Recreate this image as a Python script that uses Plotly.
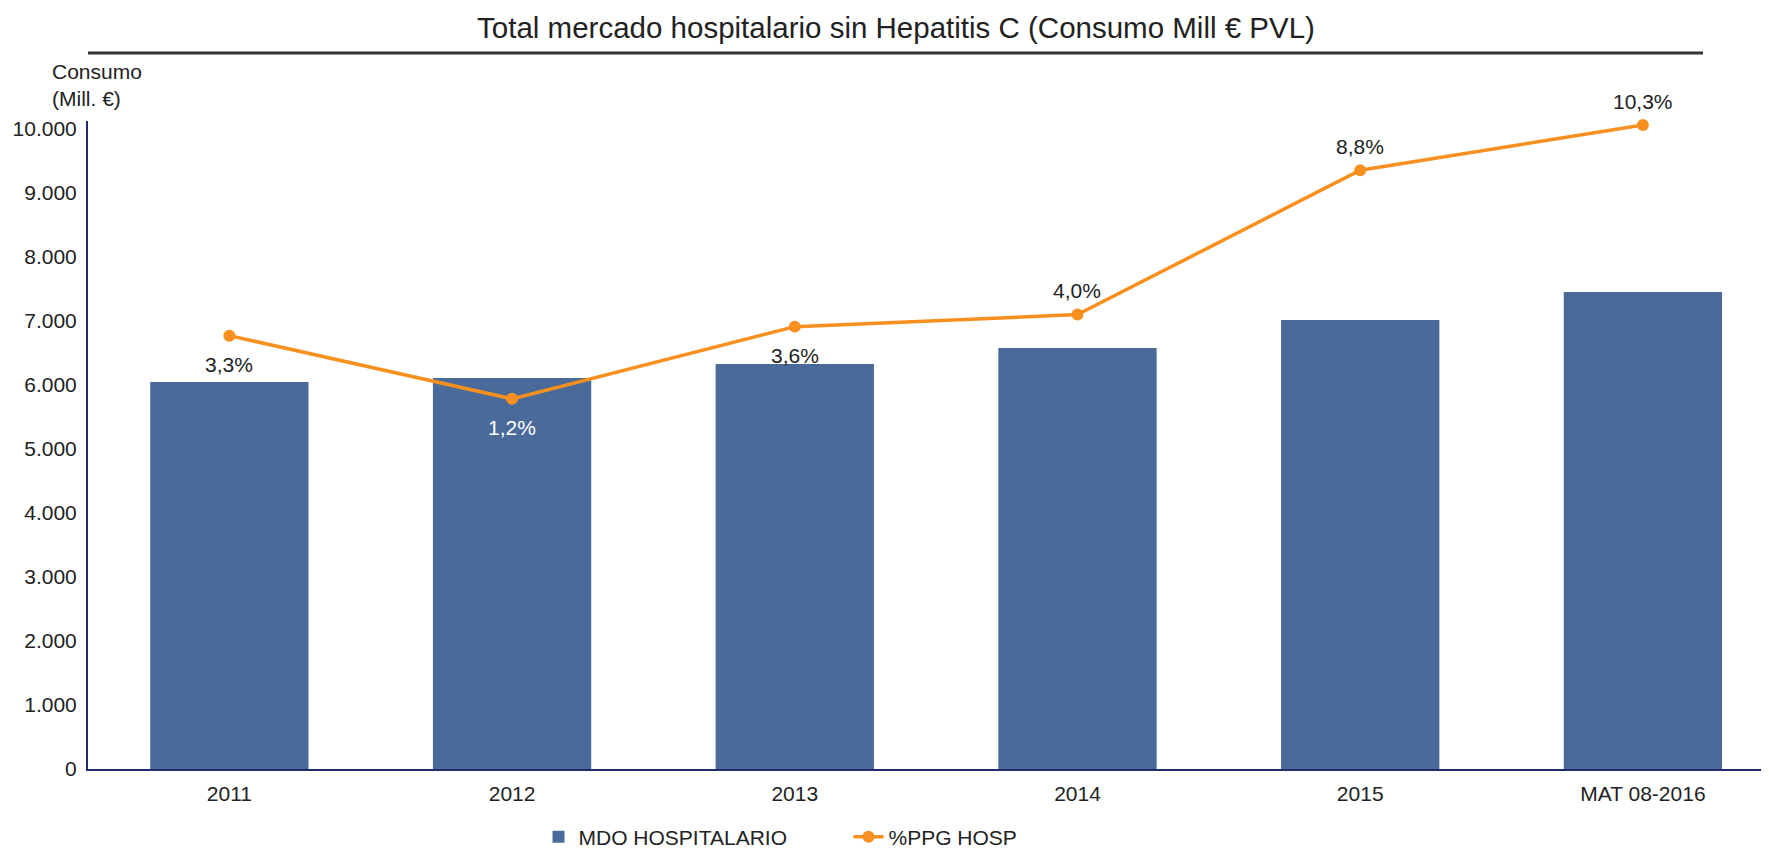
import plotly.graph_objects as go

categories = ['2011', '2012', '2013', '2014', '2015', 'MAT 08-2016']
mdo_hospitalario = [6047, 6109, 6328, 6578, 7016, 7453]
ppg_hosp = [3.3, 1.2, 3.6, 4.0, 8.8, 10.3]
label_side = ['below', 'below', 'below', 'above', 'above', 'above']
label_color = ['#222222', '#ffffff', '#222222', '#222222', '#222222', '#222222']

BAR_COLOR = '#4a6b9a'
LINE_COLOR = '#f7901e'
AXIS_COLOR = '#1f2d6b'
TEXT_COLOR = '#222222'
FONT = 'Arial, Liberation Sans, sans-serif'

# the page body has an 8px margin, so the figure is laid out 8px up/left
OFF = 8
W, H = 1769, 849
M_L, M_T, M_B, M_R = 88 - OFF, 121 - OFF, H - 769 + OFF, OFF
PLOT_H = H - M_T - M_B


def pct_text(v):
    return ('%.1f' % v).replace('.', ',') + '%'


def py(y_px):
    # window pixel row -> paper y
    return (H - M_B - (y_px - OFF)) / PLOT_H


fig = go.Figure()
fig.add_trace(go.Bar(x=categories, y=mdo_hospitalario,
                     name='MDO HOSPITALARIO',
                     marker=dict(color=BAR_COLOR, line=dict(width=0)),
                     width=0.56))
fig.add_trace(go.Scatter(x=categories, y=ppg_hosp,
                         mode='lines+markers',
                         name='%PPG HOSP',
                         yaxis='y2',
                         cliponaxis=False,
                         line=dict(color=LINE_COLOR, width=3.5),
                         marker=dict(color=LINE_COLOR, size=12)))

# labels of the percentage line
for i, (v, side, col) in enumerate(zip(ppg_hosp, label_side, label_color)):
    fig.add_annotation(x=i, y=v, xref='x', yref='y2', text=pct_text(v),
                       showarrow=False, xanchor='center', yanchor='middle',
                       yshift=-29 if side == 'below' else 24,
                       font=dict(size=21, color=col, family=FONT))

plot_w = W - M_L - M_R

# y axis title
fig.add_annotation(xref='paper', yref='paper', x=(50 - 88) / plot_w, y=py(84.5),
                   text='Consumo<br>(Mill. €)', showarrow=False,
                   xanchor='left', yanchor='middle', align='left',
                   font=dict(size=21, color=TEXT_COLOR, family=FONT))

# underline below the title
fig.add_shape(type='line', xref='paper', yref='paper',
              x0=0, x1=(1703 - 88) / plot_w, y0=py(53), y1=py(53),
              line=dict(color='#333333', width=3))

fig.update_layout(
    width=W, height=H,
    margin=dict(l=M_L, r=M_R, t=M_T, b=M_B, autoexpand=False),
    paper_bgcolor='white', plot_bgcolor='white',
    separators=',.',
    font=dict(family=FONT, size=21, color=TEXT_COLOR),
    title=dict(text='Total mercado hospitalario sin Hepatitis C (Consumo Mill € PVL)',
               x=(896 - OFF) / W, xanchor='center', y=1 - (28 - OFF) / H, yanchor='middle',
               font=dict(size=29.5, color=TEXT_COLOR, family=FONT)),
    xaxis=dict(type='category', range=[-0.5, 5.446], showgrid=False, zeroline=False,
               showline=True, linecolor=AXIS_COLOR, linewidth=2,
               ticks='', ticklabelstandoff=5, fixedrange=True,
               automargin=False),
    yaxis=dict(range=[0, 10125], tickvals=[i * 1000 for i in range(11)],
               tickformat=',d',
               showgrid=False, zeroline=False,
               showline=True, linecolor=AXIS_COLOR, linewidth=2,
               ticks='', ticklabelstandoff=5, automargin=False),
    yaxis2=dict(overlaying='y', range=[-11.106, 10.436],
                showgrid=False, zeroline=False, showline=False,
                showticklabels=False, ticks='', automargin=False),
    showlegend=True,
    legend=dict(orientation='h', x=0.268, xanchor='left',
                y=py(837), yanchor='middle', entrywidth=265,
                font=dict(size=21, color=TEXT_COLOR, family=FONT),
                bgcolor='rgba(0,0,0,0)'),
    bargap=0.44,
)

fig.write_html('out.html')
